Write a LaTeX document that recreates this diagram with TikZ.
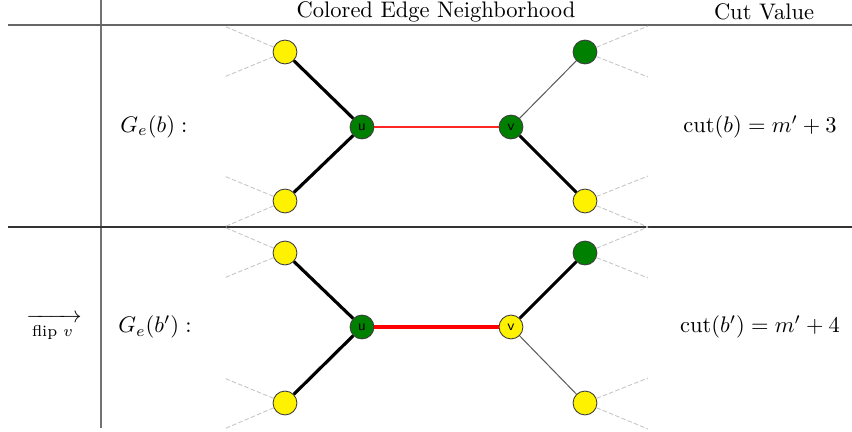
\documentclass[tikz,border=0pt]{standalone}
\usepackage{amsmath}
\begin{document}
\begin{tikzpicture}[x=0.4444pt,y=-0.4444pt,
  vtx/.style={circle,draw=black!75,line width=0.4pt,minimum size=10.6pt,inner sep=0pt,font=\fontsize{6.5}{7}\selectfont\sffamily},
  yel/.style={vtx,fill=yellow},
  grn/.style={vtx,fill=green!50!black},
  heavy/.style={line width=1.4pt,black},
  light/.style={line width=0.45pt,black!65},
  faintred/.style={line width=0.5pt,red!85},
  boldred/.style={line width=1.4pt,red},
  ghost/.style={gray!45,line width=0.4pt,dash pattern=on 2pt off 1pt},
  vrule/.style={line width=0.55pt,black!55},
  hrule/.style={line width=0.55pt,black!60},
  hrule2/.style={line width=0.55pt,black!80},
  txt/.style={inner sep=0pt}
]
\useasboundingbox (0,0) rectangle (852,432);

% table rules
\coordinate (vt) at (101,0);
\coordinate (vb) at (101,428);
\coordinate (h1l) at (8,25);
\coordinate (h1r) at (852,25);
\coordinate (h2l) at (8,227);
\coordinate (h2r) at (852,227);
\draw[vrule] (vt) -- (vb);
\draw[hrule] (h1l) -- (h1r);
\draw[hrule2] (h2l) -- (h2r);

% headers
\node[txt] (hd1) at (436,12) {Colored Edge Neighborhood};
\node[txt] (hd2) at (764,12) {Cut Value};

% row labels
\node[txt] (g1) at (154,127) {$G_e(b):$};
\node[txt] (c1) at (760,127) {$\mathrm{cut}(b) = m' + 3$};
\node[txt] (g2) at (155,327) {$G_e(b'):$};
\node[txt] (c2) at (760,327) {$\mathrm{cut}(b') = m' + 4$};
\node[txt] (flip) at (54,328) {$\xrightarrow[\text{flip } v]{}$};

% ---- row 1 ----
\node[yel] (a1) at (285,52) {};
\node[yel] (b1) at (285,201) {};
\node[grn] (u1) at (362,127) {u};
\node[grn] (v1) at (511,127) {v};
\node[grn] (c1n) at (585,52) {};
\node[yel] (d1) at (585,201) {};

\coordinate (a1p) at (224,26);
\coordinate (a1q) at (224,77);
\coordinate (b1p) at (224,176);
\coordinate (b1q) at (224,227);
\coordinate (c1p) at (648,26);
\coordinate (c1q) at (648,77);
\coordinate (d1p) at (648,176);
\coordinate (d1q) at (648,227);

\draw[ghost] (a1) -- (a1p);
\draw[ghost] (a1) -- (a1q);
\draw[ghost] (b1) -- (b1p);
\draw[ghost] (b1) -- (b1q);
\draw[ghost] (c1n) -- (c1p);
\draw[ghost] (c1n) -- (c1q);
\draw[ghost] (d1) -- (d1p);
\draw[ghost] (d1) -- (d1q);

\draw[heavy] (u1) -- (a1);
\draw[heavy] (u1) -- (b1);
\draw[faintred] (u1) -- (v1);
\draw[light] (v1) -- (c1n);
\draw[heavy] (v1) -- (d1);

% ---- row 2 ----
\node[yel] (a2) at (285,253) {};
\node[yel] (b2) at (285,403) {};
\node[grn] (u2) at (362,327) {u};
\node[yel] (v2) at (511,327) {v};
\node[grn] (c2n) at (585,253) {};
\node[yel] (d2) at (585,403) {};

\coordinate (a2p) at (224,227);
\coordinate (a2q) at (224,278);
\coordinate (b2p) at (224,378);
\coordinate (b2q) at (224,429);
\coordinate (c2p) at (648,227);
\coordinate (c2q) at (648,278);
\coordinate (d2p) at (648,378);
\coordinate (d2q) at (648,429);

\draw[ghost] (a2) -- (a2p);
\draw[ghost] (a2) -- (a2q);
\draw[ghost] (b2) -- (b2p);
\draw[ghost] (b2) -- (b2q);
\draw[ghost] (c2n) -- (c2p);
\draw[ghost] (c2n) -- (c2q);
\draw[ghost] (d2) -- (d2p);
\draw[ghost] (d2) -- (d2q);

\draw[heavy] (u2) -- (a2);
\draw[heavy] (u2) -- (b2);
\draw[boldred] (u2) -- (v2);
\draw[heavy] (v2) -- (c2n);
\draw[light] (v2) -- (d2);
\end{tikzpicture}
\end{document}
